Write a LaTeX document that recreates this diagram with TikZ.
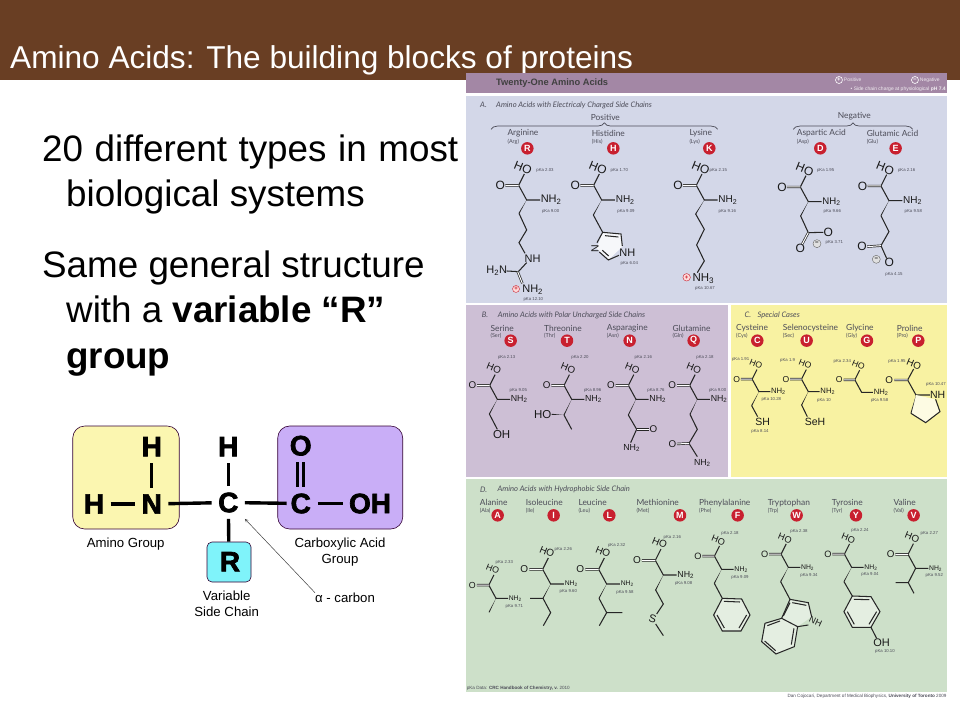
\documentclass[tikz,border=0pt]{standalone}
\usepackage{fontspec}
\setmainfont{Liberation Sans}
\newfontfamily\namefont{Lato}
\newfontfamily\atomfont{Liberation Sans}[BoldFeatures={FakeBold=2.5}]
\usepackage{xcolor}
\usetikzlibrary{calc}
\usetikzlibrary{positioning}
\usetikzlibrary{decorations.pathreplacing}
\definecolor{headbrown}{HTML}{693E23}
\definecolor{barpurple}{HTML}{A387A5}
\definecolor{panelA}{HTML}{D3D7E8}
\definecolor{panelB}{HTML}{CDBFD5}
\definecolor{panelC}{HTML}{F8F2A2}
\definecolor{panelD}{HTML}{CDE0C9}
\definecolor{aminoyellow}{HTML}{FBF6B0}
\definecolor{acidpurple}{HTML}{C9AEF7}
\definecolor{sidecyan}{HTML}{7FF3FA}
\definecolor{badgered}{HTML}{C8202F}
\definecolor{inkgray}{HTML}{4C4C58}
\tikzset{
  bond/.style={line width=1.05pt,color=black!85},
  dblbond/.style={line width=0.7pt,double,double distance=1pt,color=black!85},
  pka/.style={font=\fontsize{4.3}{5}\selectfont,color=inkgray,inner sep=0pt},
  acidname/.style={font=\namefont\fontsize{8.4}{10}\selectfont,color=inkgray,inner sep=0pt,anchor=west},
  acidabbr/.style={font=\namefont\fontsize{5.5}{6}\selectfont,color=inkgray,inner sep=0pt,anchor=west},
  badge/.style={circle,fill=badgered,text=white,inner sep=0pt,minimum size=12.5pt,font=\bfseries\fontsize{9}{9}\selectfont},
  panelhead/.style={font=\namefont\itshape\fontsize{7.6}{9}\selectfont,color=inkgray,inner sep=0pt,anchor=west},
  atom/.style={font=\atomfont\bfseries\fontsize{28}{28}\selectfont,inner sep=6.5pt,outer sep=0pt},
  atombond/.style={line width=3.4pt},
  groupbox/.style={draw=black!60!violet,line width=0.6pt,rounded corners=12pt,minimum height=103pt},
  caption/.style={font=\fontsize{13.2}{16}\selectfont,align=center,inner sep=0pt},
  bodytext/.style={font=\fontsize{36.8}{38}\selectfont,inner sep=0pt,anchor=base west},
  chem/.style={inner sep=0.6pt,color=black!90}
}
% carboxyl and amino part that all of them share
\newcommand{\backbone}[5]{%
  \begin{scope}[shift={(#1,#2)},scale=#3]
    \coordinate (CO) at (-24,-44);
    \draw[bond] (CO) -- (0,0) -- (40,0);
    \draw[bond] (CO) -- (-7,-78);
    \draw[dblbond] (CO) -- (-64,-44);
    \node[chem,font={\fontsize{#5}{#5}\selectfont}] at (-79,-44) {O};
    \node[chem,rotate=-22,font={\fontsize{#5}{#5}\selectfont}] at (-11,-97) {HO};
    \node[chem,anchor=west,font={\fontsize{#4}{#4}\selectfont}] at (40,0) {NH\textsubscript{2}};
  \end{scope}}
\newcommand{\wedgebond}[2]{%
  \fill[black!85] (#1) -- ($(#2)!1.5pt!90:(#1)$) -- ($(#2)!1.5pt!-90:(#1)$) -- cycle;}
\begin{document}
\begin{tikzpicture}[x=1pt,y=-1pt]
  \useasboundingbox (0,0) rectangle (960,720);
  \fill[white] (0,0) rectangle (960,720);
  \fill[headbrown] (0,0) rectangle (960,80);
  \node[inner sep=0pt,anchor=base west,text=white,font=\fontsize{31.6}{33}\selectfont] (title) at (10,68) {Amino Acids: The building blocks of proteins};

  \node[bodytext] (line1) at (42,161) {\makebox[416pt][s]{20 different types in most}};
  \node[bodytext] (line2) at (66,206) {biological systems};
  \node[bodytext] (line3) at (42,277) {Same general structure};
  \node[bodytext] (line4) at (66,322) {with a \textbf{variable “R”}};
  \node[bodytext] (line5) at (66,368) {\textbf{group}};

  % amino acid sketch
  \node[groupbox,fill=aminoyellow,minimum width=106.5pt] (aminobox) at (126,477.5) {};
  \node[groupbox,fill=acidpurple,minimum width=125pt] (acidbox) at (340.2,477.5) {};
  \node[groupbox,fill=sidecyan,rounded corners=5pt,minimum width=44pt,minimum height=40pt] (rbox) at (229,562) {};
  \node[atom] (hleft) at (94,504) {H};
  \node[atom] (nitro) at (151.7,504) {N};
  \node[atom] (htop) at (151.7,446.7) {H};
  \node[atom] (hmid) at (228.3,446.7) {H};
  \node[atom] (calpha) at (228.3,502.5) {C};
  \node[atom] (rgroup) at (230,561.7) {R};
  \node[atom,inner sep=4pt] (ctwo) at (300.7,503.5) {C};
  \node[atom] (oxy) at (300.7,445.7) {O};
  \node[atom] (oh) at (370,503.5) {OH};
  \draw[atombond] (hleft) -- (nitro);
  \draw[atombond] (nitro) -- (htop);
  \draw[atombond] (nitro) -- (calpha);
  \draw[atombond] (calpha) -- (hmid);
  \draw[atombond] (calpha) -- (ctwo);
  \draw[atombond] (calpha) -- (rbox);
  \draw[atombond,shorten <=3pt] (ctwo) -- (oh);
  \draw[line width=3pt,double=acidpurple,double distance=2.6pt,shorten <=3pt] (ctwo) -- (oxy);
  \node[caption] (aminolab) at (125.7,544) {Amino Group};
  \node[caption] (acidlab) at (340,552) {Carboxylic Acid\\Group};
  \node[caption] (sidelab) at (226.7,603.5) {Variable\\Side Chain};
  \node[caption] (alphalab) at (345,597.7) {α - carbon};
  \draw[-stealth,line width=0.5pt,black!75] (alphalab.north west) -- (calpha.south east);

  % picture on the right
  \fill[barpurple] (466,72.7) rectangle (946.7,93.3);
  \fill[panelA] (466,96) rectangle (946.7,302.7);
  \fill[panelB] (466,305) rectangle (727.7,476.7);
  \fill[panelC] (731,305) rectangle (946.7,476.7);
  \fill[panelD] (466,479) rectangle (946.7,691.7);

  \begin{scope}[shift={(465,70)},scale=0.3333]
    \node[inner sep=0pt,anchor=west,font=\bfseries\fontsize{9.3}{10}\selectfont,color=black!75] (bartitle) at (93,40) {Twenty-One Amino Acids};
    \node[circle,draw=white,line width=0.6pt,minimum size=7pt,inner sep=0pt,text=white,font=\bfseries\fontsize{6}{6}\selectfont] (plusleg) at (1122,30) {+};
    \node[right=1pt of plusleg,inner sep=0pt,text=white!80!barpurple,font=\fontsize{5}{6}\selectfont] {Positive};
    \node[circle,draw=white,line width=0.6pt,minimum size=7pt,inner sep=0pt,text=white,font=\bfseries\fontsize{6}{6}\selectfont] (minusleg) at (1350,30) {−};
    \node[right=1pt of minusleg,inner sep=0pt,text=white!80!barpurple,font=\fontsize{5}{6}\selectfont] {Negative};
    \node[anchor=east,inner sep=0pt,text=white!85!barpurple,font=\fontsize{5}{6}\selectfont] at (1443,58) {• Side chain charge at physiological \textbf{pH 7.4}};

    \node[panelhead] at (45,105) {A.};
    \node[panelhead] at (93,105) {Amino Acids with Electricaly Charged Side Chains};
    \node[acidname] at (377,143) {Positive};
    \node[acidname] at (1118,140) {Negative};
    \draw[decorate,decoration={brace,amplitude=6.5pt},line width=0.7pt,inkgray] (78,178) -- (758,178);
    \draw[decorate,decoration={brace,amplitude=6.5pt},line width=0.7pt,inkgray] (985,178) -- (1343,178);
    \foreach \x/\n/\a in {127/Arginine/Arg,380/Histidine/His,673/Lysine/Lys,995/Aspartic Acid/Asp,1205/Glutamic Acid/Glu}{
      \node[acidname] at (\x,190) {\n};
      \node[acidabbr] at (\x,215) {(\a)};
    }
    \foreach \x/\l in {187/R,445/H,733/K,1066/D,1292/E}
      \node[badge] at (\x,235) {\l};
    \foreach \x/\y/\t in {240/301/2.03,257/423/9.00,205/689/12.10,463/301/1.70,483/423/9.09,493/581/6.04,760/301/2.15,787/423/9.16,720/656/10.67,1082/301/1.95,1102/423/9.66,1108/517/3.71,1325/301/2.16,1345/423/9.58,1287/613/4.15}
      \node[pka] at (\x,\y) {pKa \t};

    % arginine
    \backbone{185}{390}{1}{11}{12}
    \wedgebond{185,390}{162,430}
    \draw[bond] (162,430) -- (185,480) -- (162,518) -- (180,550);
    \draw[bond] (185,578) -- (160,605) -- (125,603);
    \draw[dblbond] (158,605) -- (172,640);
    \node[chem,font=\fontsize{11}{12}\selectfont] at (203,565) {NH};
    \node[chem,font=\fontsize{11}{12}\selectfont] at (95,602) {H\textsubscript{2}N};
    \node[chem,font=\fontsize{11}{12}\selectfont] at (203,660) {NH\textsubscript{2}};
    \node[circle,fill=red!15,draw=badgered,line width=0.4pt,inner sep=0pt,minimum size=7pt,font=\bfseries\fontsize{6}{6}\selectfont,text=badgered] at (153,657) {+};
    % histidine
    \backbone{410}{390}{1}{10}{12}
    \wedgebond{410,390}{385,435}
    \draw[bond] (385,435) -- (413,487);
    \fill[white!80!panelA] (413,487) -- (468,492) -- (472,530) -- (430,570) -- (395,535) -- cycle;
    \draw[bond] (396,518) -- (413,487) -- (468,492) -- (472,528);
    \draw[bond] (462,556) -- (430,570) -- (403,546);
    \draw[bond] (420,497) -- (460,501);
    \draw[bond] (412,541) -- (431,558);
    \node[chem,rotate=90,font=\fontsize{10.5}{12}\selectfont] at (390,535) {N};
    \node[chem,font=\fontsize{11}{12}\selectfont] at (487,548) {NH};
    % lysine
    \backbone{718}{390}{1}{10}{12}
    \wedgebond{718,390}{692,432}
    \draw[bond] (692,432) -- (718,478) -- (695,525) -- (718,573) -- (697,608);
    \node[chem,font=\fontsize{11.5}{12}\selectfont] at (715,625) {NH\textsubscript{3}};
    \node[circle,fill=red!15,draw=badgered,line width=0.4pt,inner sep=0pt,minimum size=7.5pt,font=\bfseries\fontsize{6}{6}\selectfont,text=badgered] at (665,622) {+};
    % aspartic acid
    \backbone{1030}{395}{1}{9.6}{12}
    \wedgebond{1030,395}{1007,438}
    \draw[bond] (1007,438) -- (1030,488) -- (1075,487);
    \draw[dblbond] (1030,488) -- (1012,522);
    \node[chem,font=\fontsize{12}{12}\selectfont] at (1006,535) {O};
    \node[chem,font=\fontsize{12}{12}\selectfont] at (1090,487) {O};
    \node[circle,draw=black!60,fill=black!12,line width=0.4pt,inner sep=0pt,minimum size=8pt,font=\bfseries\fontsize{6}{6}\selectfont] at (1056,521) {−};
    % glutamic acid
    \backbone{1272}{392}{1}{10}{12}
    \wedgebond{1272,392}{1248,437}
    \draw[bond] (1248,437) -- (1272,485) -- (1248,527) -- (1265,565);
    \draw[dblbond] (1248,527) -- (1207,530);
    \node[chem,font=\fontsize{12}{12}\selectfont] at (1191,530) {O};
    \node[chem,font=\fontsize{12}{12}\selectfont] at (1273,578) {O};
    \node[circle,draw=black!60,fill=black!12,line width=0.4pt,inner sep=0pt,minimum size=8pt,font=\bfseries\fontsize{6}{6}\selectfont] at (1234,568) {−};
  \end{scope}

  \begin{scope}[shift={(465,300)},scale=0.3333]
    \node[panelhead] at (50,45) {B.};
    \node[panelhead] at (98,45) {Amino Acids with Polar Uncharged Side Chains};
    \node[panelhead] at (838,45) {C.};
    \node[panelhead] at (877,45) {Special Cases};
    \foreach \x/\n/\a in {76/Serine/Ser,237/Threonine/Thr,425/Asparagine/Asn,622/Glutamine/Gln,813/Cysteine/Cys,953/Selenocysteine/Sec,1143/Glycine/Gly,1295/Proline/Pro}{
      \node[acidname] at (\x,85) {\n};
      \node[acidabbr] at (\x,108) {(\a)};
    }
    \foreach \x/\l in {137/S,306/T,494/N,686/Q,877/C,1025/U,1206/G,1360/P}
      \node[badge] at (\x,122) {\l};
    \foreach \x/\y/\t in {125/173/2.13,160/272/9.05,345/173/2.20,383/272/8.96,535/173/2.16,573/272/8.76,720/173/2.18,758/272/9.00,827/177/1.91,919/298/10.28,885/394/8.14,968/180/1.9,1077/302/10,1132/184/2.34,1244/302/9.58,1296/184/1.95,1413/252/10.47}
      \node[pka] at (\x,\y) {pKa \t};

    % serine
    \backbone{97}{298}{0.95}{8.8}{9.8}
    \wedgebond{97,298}{73,342}
    \draw[bond] (73,342) -- (97,388);
    \node[chem,font=\fontsize{11.5}{12}\selectfont] at (110,403) {OH};
    % threonine
    \backbone{320}{298}{0.95}{8.8}{9.8}
    \wedgebond{320,298}{297,345}
    \wedgebond{297,345}{260,343}
    \draw[bond] (297,345) -- (320,388);
    \node[chem,font=\fontsize{11.5}{12}\selectfont] at (233,343) {HO};
    % asparagine
    \backbone{513}{298}{0.95}{8.8}{9.8}
    \wedgebond{513,298}{490,345}
    \draw[bond] (490,345) -- (515,388) -- (497,428);
    \draw[dblbond] (515,388) -- (552,388);
    \node[chem,font=\fontsize{9.8}{12}\selectfont] at (565,388) {O};
    \node[chem,font=\fontsize{8.8}{12}\selectfont] at (500,445) {NH\textsubscript{2}};
    % glutamine
    \backbone{697}{298}{0.95}{8.8}{9.8}
    \wedgebond{697,298}{675,343}
    \draw[bond] (675,343) -- (697,388) -- (672,430) -- (697,470);
    \draw[dblbond] (672,430) -- (636,432);
    \node[chem,font=\fontsize{9.8}{12}\selectfont] at (622,432) {O};
    \node[chem,font=\fontsize{8.8}{12}\selectfont] at (712,488) {NH\textsubscript{2}};
    % cysteine
    \backbone{882}{275}{0.85}{7.7}{8.6}
    \wedgebond{882,275}{860,317}
    \draw[bond] (860,317) -- (878,350);
    \node[chem,font=\fontsize{10.5}{12}\selectfont] at (893,365) {SH};
    % selenocysteine
    \backbone{1030}{275}{0.85}{7.7}{8.6}
    \wedgebond{1030,275}{1010,315}
    \draw[bond] (1010,315) -- (1027,350);
    \node[chem,font=\fontsize{10.5}{12}\selectfont] at (1050,365) {SeH};
    % glycine
    \backbone{1190}{277}{0.85}{7.7}{8.6}
    % proline
    \begin{scope}[shift={(1353,285)}]
      \coordinate (CO) at (-25,-45);
      \draw[bond] (CO) -- (0,0) -- (42,0);
      \draw[bond] (CO) -- (-7,-78);
      \draw[dblbond] (CO) -- (-65,-45);
      \node[chem,font=\fontsize{9.8}{12}\selectfont] at (-80,-45) {O};
      \node[chem,rotate=-22,font=\fontsize{9.8}{12}\selectfont] at (-6,-93) {HO};
      \node[chem,font=\fontsize{10.5}{12}\selectfont] at (65,0) {NH};
    \end{scope}
    \fill[white!70!panelC] (1353,285) -- (1338,340) -- (1382,368) -- (1425,335) -- (1410,298) -- cycle;
    \wedgebond{1353,285}{1338,340}
    \draw[bond] (1338,340) -- (1382,368) -- (1425,335) -- (1412,298);
  \end{scope}

  \begin{scope}[shift={(465,480)},scale=0.3333]
    \node[panelhead] at (45,28) {D.};
    \node[panelhead] at (97,28) {Amino Acids with Hydrophobic Side Chain};
    \foreach \x/\n/\a in {44/Alanine/Ala,182/Isoleucine/Ile,340/Leucine/Leu,514/Methionine/Met,702/Phenylalanine/Phe,908/Tryptophan/Trp,1100/Tyrosine/Tyr,1285/Valine/Val}{
      \node[acidname] at (\x,68) {\n};
      \node[acidabbr] at (\x,92) {(\a)};
    }
    \foreach \x/\l in {98/A,266/I,433/L,645/M,818/F,995/W,1173/Y,1346/V}
      \node[badge] at (\x,106) {\l};
    \foreach \x/\y/\t in {118/246/2.33,148/378/9.71,295/207/2.26,310/334/9.60,455/196/2.32,480/336/9.58,622/171/2.16,656/311/9.08,795/160/2.18,825/291/9.09,1002/153/2.38,1032/285/9.34,1185/150/2.24,1215/282/9.04,1260/514/10.10,1393/160/2.27,1408/287/9.52}
      \node[pka] at (\x,\y) {pKa \t};

    % alanine
    \backbone{93}{355}{0.9}{6.8}{8.8}
    \wedgebond{93,355}{72,397}
    % isoleucine
    \backbone{257}{312}{1}{6.8}{10}
    \wedgebond{257,312}{234,355}
    \draw[bond] (195,355) -- (234,355) -- (257,398) -- (235,437);
    % leucine
    \backbone{425}{312}{1}{6.8}{10}
    \wedgebond{425,312}{402,355}
    \draw[bond] (402,355) -- (425,398) -- (472,398);
    \draw[bond] (425,398) -- (403,437);
    % methionine
    \backbone{595}{285}{1}{8.8}{10}
    \wedgebond{595,285}{572,330}
    \draw[bond] (572,330) -- (595,372) -- (575,402);
    \draw[bond] (572,432) -- (595,467);
    \node[chem,rotate=-15,font=\fontsize{11}{12}\selectfont] at (563,417) {S};
    % phenylalanine
    \backbone{770}{268}{0.9}{7}{9.2}
    \wedgebond{770,268}{748,310}
    \draw[bond] (748,310) -- (772,355);
    \draw[bond,fill=white!45!panelD] (772,355) -- (830,357) -- (855,405) -- (828,453) -- (772,453) -- (746,405) -- cycle;
    \draw[bond] (777,364) -- (825,366);
    \draw[bond] (845,405) -- (822,444);
    \draw[bond] (778,444) -- (756,405);
    % tryptophan
    \backbone{970}{262}{0.9}{6.8}{9.2}
    \wedgebond{970,262}{947,305}
    \draw[bond] (947,305) -- (975,358);
    \fill[white!45!panelD] (975,358) -- (1030,368) -- (1040,410) -- (998,440) -- (950,415) -- cycle;
    \draw[bond] (1040,410) -- (1030,368) -- (975,358) -- (950,415);
    \draw[bond] (1030,435) -- (998,440);
    \draw[bond,fill=white!45!panelD] (950,415) -- (998,440) -- (988,500) -- (933,522) -- (890,485) -- (900,430) -- cycle;
    \draw[bond] (982,368) -- (1024,376);
    \draw[bond] (955,408) -- (975,368);
    \draw[bond] (987,445) -- (979,494);
    \draw[bond] (932,512) -- (899,483);
    \draw[bond] (907,437) -- (945,423);
    \node[chem,rotate=-25,font=\fontsize{9}{12}\selectfont] at (1052,425) {NH};
    % tyrosine
    \backbone{1160}{262}{0.9}{6.8}{9.2}
    \wedgebond{1160,262}{1137,305}
    \draw[bond] (1137,305) -- (1162,348);
    \draw[bond,fill=white!45!panelD] (1162,348) -- (1218,350) -- (1245,395) -- (1218,442) -- (1162,442) -- (1137,395) -- cycle;
    \draw[bond] (1167,358) -- (1213,359);
    \draw[bond] (1235,395) -- (1212,433);
    \draw[bond] (1168,433) -- (1147,395);
    \draw[bond] (1218,442) -- (1235,475);
    \node[chem,font=\fontsize{11}{12}\selectfont] at (1250,488) {OH};
    % valine
    \backbone{1352}{265}{0.95}{6.8}{9.8}
    \draw[bond] (1352,265) -- (1330,308) -- (1292,308);
    \draw[bond] (1330,308) -- (1347,340);

    \node[anchor=west,inner sep=0pt,color=inkgray,font=\fontsize{4.6}{6}\selectfont] at (5,626) {pKa Data: \textbf{CRC Handbook of Chemistry, v.} 2010};
    \node[anchor=east,inner sep=0pt,color=inkgray,font=\fontsize{4.6}{6}\selectfont] at (1445,648) {Dan Cojocari, Department of Medical Biophysics, \textbf{University of Toronto} 2009};
  \end{scope}
\end{tikzpicture}
\end{document}
